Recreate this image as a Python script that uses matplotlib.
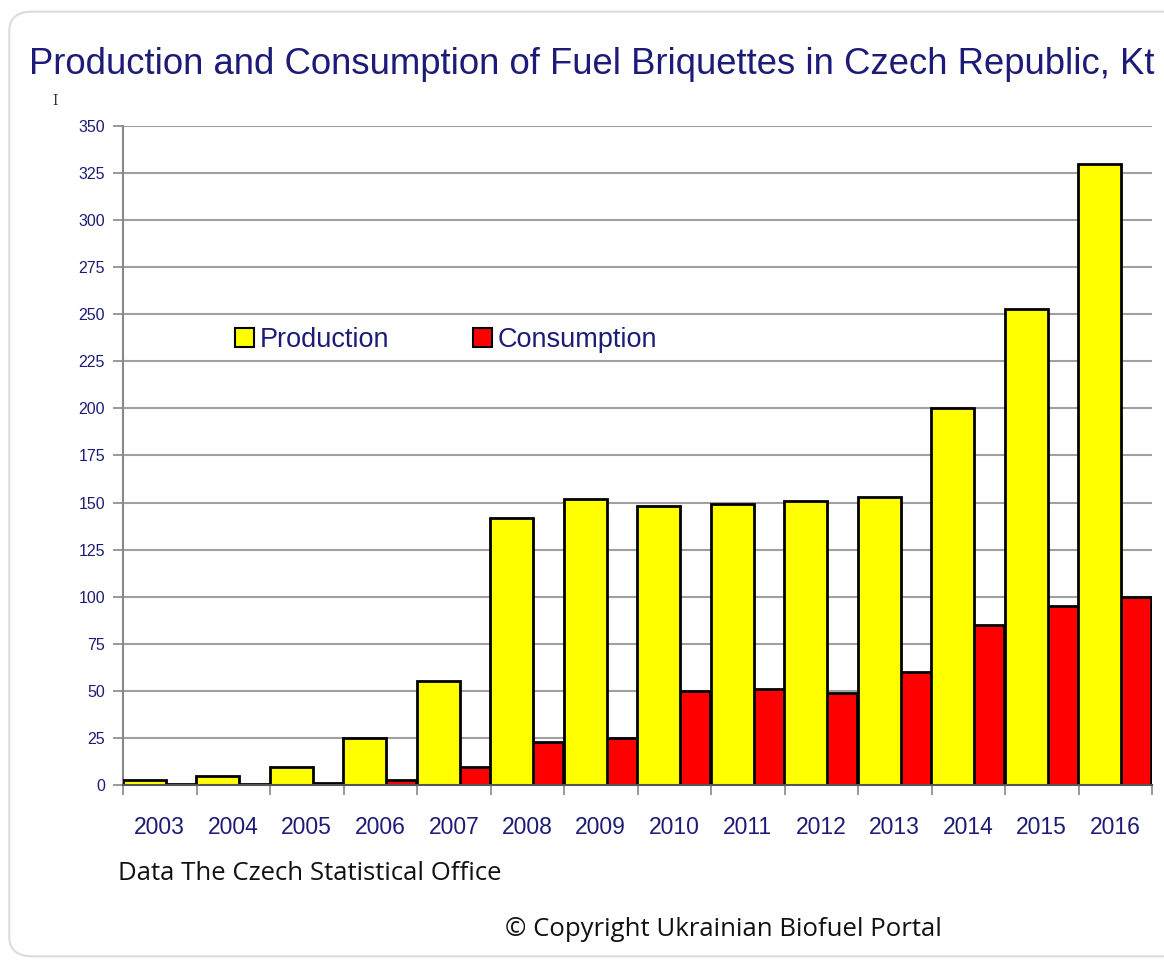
import matplotlib
matplotlib.use("Agg")
import matplotlib.pyplot as plt
from matplotlib.patches import FancyBboxPatch, Patch
from matplotlib import font_manager as fm
import numpy as np

years = ["2003", "2004", "2005", "2006", "2007", "2008", "2009",
         "2010", "2011", "2012", "2013", "2014", "2015", "2016"]
production = [2.7, 4.8, 9.5, 25, 55, 142, 152, 148, 149, 151, 153, 200, 253, 330]
consumption = [0.3, 0.3, 1, 2.7, 9.7, 23, 25, 50, 51, 49, 60, 85, 95, 100]
yticks = list(range(0, 351, 25))

names = {f.name for f in fm.fontManager.ttflist}
narrow = "Liberation Sans Narrow" if "Liberation Sans Narrow" in names else "Liberation Sans"
navy = "#1c1c78"

fig = plt.figure(figsize=(11.64, 9.66), dpi=100)
fig.patch.set_facecolor("white")
frame = FancyBboxPatch((0.008, 0.010), 1.2, 0.978, boxstyle="round,pad=0,rounding_size=0.02",
                       transform=fig.transFigure, facecolor="none", edgecolor="#dcdcdc",
                       linewidth=1.5, zorder=-5)
fig.patches.append(frame)

ax = fig.add_axes([123/1164, 1-785/966, (1152-123)/1164, (785-126)/966])
ax.set_facecolor("none")
x = np.arange(len(years))
w = 0.585
ax.bar(x + 0.2, consumption, width=w, color="#ff0000", edgecolor="black", linewidth=2.0, zorder=2)
ax.bar(x - 0.21, production, width=w, color="#ffff00", edgecolor="black", linewidth=2.0, zorder=3)

ax.set_xlim(-0.5, len(years) - 0.5)
ax.set_ylim(0, 350)
ax.set_yticks(yticks)
ax.set_yticklabels([str(t) for t in yticks], fontsize=11.5, color=navy, family=narrow)
ax.grid(axis="y", color="#a0a0a0", linewidth=1.5, zorder=0)
ax.set_axisbelow(True)

ax.set_xticks(x)
ax.set_xticklabels(years, fontsize=16.5, color=navy, family=narrow)
ax.tick_params(axis="x", length=0, pad=22)
ax.set_xticks(np.arange(len(years) + 1) - 0.5, minor=True)
ax.tick_params(axis="x", which="minor", length=7, width=1.2, color="#888888", direction="out")
ax.tick_params(axis="y", length=7, width=1.2, color="#888888", direction="out", pad=6)

for s in ["top", "right"]:
    ax.spines[s].set_visible(False)
ax.spines["left"].set_color("#888888")
ax.spines["left"].set_linewidth(1.5)
ax.spines["bottom"].set_color("#555555")
ax.spines["bottom"].set_linewidth(1.5)
ax.spines["bottom"].set_zorder(4)

handles = [Patch(facecolor="#ffff00", edgecolor="black", linewidth=1.5),
           Patch(facecolor="#ff0000", edgecolor="black", linewidth=1.5)]
leg = ax.legend(handles, ["Production", "Consumption"], loc="center left",
                bbox_to_anchor=(0.096, 0.675), ncol=2, frameon=False,
                handlelength=0.7, handleheight=0.7, handletextpad=0.2,
                columnspacing=3.1, borderpad=0, prop={"family": narrow, "size": 19.5})
for t in leg.get_texts():
    t.set_color(navy)

fig.text(592/1164, 1-64/966, "Production and Consumption of Fuel Briquettes in Czech Republic, Kt",
         ha="center", va="center", fontsize=26.3, color=navy, family=narrow)
fig.text(55/1164, 1-101/966, "I", ha="center", va="center", fontsize=10, color="#333333",
         family="DejaVu Serif")
fig.text(118/1164, 1-873/966, "Data The Czech Statistical Office", ha="left", va="center",
         fontsize=18.5, color="#111111", family="Open Sans")
fig.text(505/1164, 1-930/966, "\u00a9 Copyright Ukrainian Biofuel Portal", ha="left", va="center",
         fontsize=18.5, color="#111111", family="Open Sans")

fig.savefig("out.png", dpi=100, facecolor="white")
